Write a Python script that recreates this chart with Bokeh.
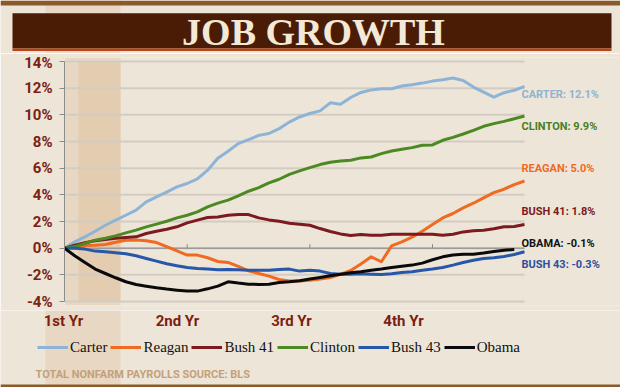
from bokeh.plotting import figure
from bokeh.layouts import column
from bokeh.models import (Label, BoxAnnotation, Legend, LegendItem,
                          FixedTicker, Range1d)
from bokeh.embed import file_html
from bokeh.resources import INLINE

# ---------------- data (percent change in payrolls since start of term) ----
months = list(range(46))
carter = [0, 0.47, 0.85, 1.27, 1.72, 2.1, 2.47, 2.85, 3.47, 3.85, 4.2, 4.6, 4.85, 5.2, 5.85, 6.75,
          7.27, 7.84, 8.14, 8.46, 8.6, 8.96, 9.46, 9.84, 10.1, 10.3, 10.9, 10.8, 11.3, 11.68, 11.87,
          11.96, 11.96, 12.16, 12.26, 12.38, 12.53, 12.63, 12.76, 12.58, 12.08, 11.7, 11.33, 11.66, 11.84, 12.13]
reagan = [0, 0.12, 0.2, 0.22, 0.27, 0.45, 0.6, 0.62, 0.55, 0.42, 0.12, -0.2, -0.52, -0.52, -0.72, -1.0,
          -1.07, -1.37, -1.7, -1.9, -2.1, -2.35, -2.47, -2.47, -2.4, -2.32, -2.2, -1.97, -1.67, -1.18, -0.65,
          -1.02, 0.17, 0.47, 0.82, 1.27, 1.77, 2.27, 2.6, 3.02, 3.37, 3.77, 4.17, 4.42, 4.77, 5.04]
bush41 = [0, 0.22, 0.4, 0.55, 0.65, 0.75, 0.8, 0.85, 1.1, 1.27, 1.42, 1.6, 1.9, 2.1, 2.3, 2.33,
          2.47, 2.52, 2.52, 2.27, 2.12, 2.02, 1.87, 1.8, 1.72, 1.47, 1.25, 1.07, 0.95, 1.02, 0.97,
          0.97, 1.05, 1.05, 1.05, 1.05, 1.05, 0.97, 1.05, 1.22, 1.3, 1.35, 1.45, 1.6, 1.62, 1.77]
clinton = [0, 0.12, 0.35, 0.6, 0.75, 0.92, 1.15, 1.35, 1.6, 1.8, 2.02, 2.27, 2.47, 2.72, 3.1, 3.38,
           3.6, 3.92, 4.27, 4.54, 4.9, 5.17, 5.54, 5.8, 6.04, 6.27, 6.44, 6.54, 6.6, 6.77, 6.84,
           7.09, 7.29, 7.42, 7.54, 7.72, 7.74, 8.09, 8.31, 8.56, 8.84, 9.14, 9.34, 9.51, 9.71, 9.91]
bush43 = [0, 0, -0.07, -0.22, -0.27, -0.35, -0.42, -0.57, -0.77, -0.97, -1.17, -1.32, -1.45, -1.52, -1.57, -1.61,
          -1.6, -1.62, -1.65, -1.65, -1.65, -1.6, -1.57, -1.72, -1.65, -1.72, -1.9, -1.95, -1.95, -1.92, -1.95,
          -1.97, -1.92, -1.82, -1.77, -1.65, -1.57, -1.45, -1.27, -1.07, -0.9, -0.77, -0.72, -0.62, -0.47, -0.27]
obama = [0, -0.57, -1.07, -1.57, -1.9, -2.22, -2.52, -2.72, -2.85, -2.97, -3.07, -3.15, -3.22, -3.22, -3.05, -2.85,
         -2.52, -2.62, -2.7, -2.72, -2.7, -2.57, -2.52, -2.45, -2.32, -2.2, -2.07, -1.95, -1.85, -1.77, -1.65,
         -1.57, -1.45, -1.35, -1.27, -1.12, -0.87, -0.65, -0.52, -0.45, -0.45, -0.37, -0.25, -0.15, -0.1]

series_names = ["Carter", "Reagan", "Bush 41", "Clinton", "Bush 43", "Obama"]
series_values = [carter, reagan, bush41, clinton, bush43, obama]
series_colors = ["#8db4d6", "#f06a22", "#7c1a1e", "#4b8a22", "#2657a8", "#0a0a0a"]

end_labels = ["CARTER: 12.1%", "CLINTON: 9.9%", "REAGAN: 5.0%", "BUSH 41: 1.8%",
              "OBAMA: -0.1%", "BUSH 43: -0.3%"]
end_colors = ["#8fb3d3", "#4a7e1e", "#ef6a24", "#7b1a1c", "#111111", "#2c50a0"]

y_ticks = [-4, -2, 0, 2, 4, 6, 8, 10, 12, 14]
year_ticks = [12, 24, 36]
year_labels = ["1st Yr", "2nd Yr", "3rd Yr", "4th Yr"]
title_text = "JOB GROWTH"
source_text = "TOTAL NONFARM PAYROLLS  SOURCE: BLS"

# ---------------- layout (page-pixel geometry) -------------------------------
W = 620
BG = "#ede5d8"
TAN = "#e8d8c3"
TAN_DARK = "#e3ccb0"
EDGE = "#8a5a2b"
PX_X = 460 / 45.0      # px per month
PX_Y = 240 / 18.0      # px per percent
LEFT, TOP14 = 64, 61   # page px of month 0 / 14 %


def strip(y0, y1):
    """A full-bleed figure whose data coordinates are page pixels."""
    f = figure(frame_width=W, frame_height=y1 - y0, min_border=0,
               x_range=Range1d(0, W), y_range=Range1d(y1, y0),
               x_axis_type=None, y_axis_type=None, frame_align=False,
               output_backend="svg", toolbar_location=None,
               background_fill_color=BG, border_fill_color=BG)
    f.outline_line_color = None
    f.grid.visible = False
    f.add_layout(BoxAnnotation(left=45, right=120, fill_color=TAN,
                               fill_alpha=1, line_alpha=0, level="image"))
    return f


# ---- title strip (page y 0..53) ----
t = strip(0, 53)
t.add_layout(BoxAnnotation(top=0, bottom=5, fill_color=EDGE, fill_alpha=1, line_alpha=0))
t.add_layout(BoxAnnotation(left=12, right=611, top=12.7, bottom=48,
                           fill_color="#4a1c05", fill_alpha=1, line_alpha=0))
t.add_layout(BoxAnnotation(left=12, right=611, top=48, bottom=50.5,
                           fill_color="#b4461a", fill_alpha=1, line_alpha=0))
t.add_layout(Label(x=313, y=31, text=title_text, text_color="#f3e9d8",
                   text_font="Liberation Serif", text_font_style="bold", text_font_size="38px",
                   text_align="center", text_baseline="middle"))

# ---- main chart (page y 53..310) ----
FW = W - LEFT
FH = 248
ytop = 14 + (TOP14 - 57) / PX_Y
ybot = ytop - FH / PX_Y
p = figure(frame_width=FW, frame_height=FH, min_border_left=LEFT, min_border_right=0,
           min_border_top=4, min_border_bottom=5, frame_align=False,
           x_range=Range1d(0, FW / PX_X), y_range=Range1d(ybot, ytop),
           x_axis_type=None, output_backend="svg", toolbar_location=None,
           background_fill_color=BG, border_fill_color=BG)
p.outline_line_color = None
p.grid.visible = False

ax = p.yaxis[0]
ax.bounds = (min(y_ticks), max(y_ticks))
ax.ticker = FixedTicker(ticks=y_ticks)
ax.major_label_overrides = {v: f"{v}%" for v in y_ticks}
ax.axis_line_color = "#8c8c8c"
ax.major_tick_line_color = "#8c8c8c"
ax.major_tick_out = 5
ax.major_tick_in = 0
ax.minor_tick_line_color = None
ax.major_label_standoff = 7
ax.major_label_text_font = "Roboto"
ax.major_label_text_font_style = "bold"
ax.major_label_text_font_size = "15px"
ax.major_label_text_color = "#7a2213"

p.add_layout(BoxAnnotation(left=0, right=(120 - LEFT) / PX_X, fill_color=TAN,
                           fill_alpha=1, line_alpha=0, level="image"))
p.add_layout(BoxAnnotation(left=(78 - LEFT) / PX_X, right=(120 - LEFT) / PX_X,
                           top=max(y_ticks), bottom=min(y_ticks), fill_color=TAN_DARK,
                           fill_alpha=1, line_alpha=0, level="image"))

last_month = months[-1]
p.segment(x0=[0] * len(y_ticks), x1=[last_month] * len(y_ticks), y0=y_ticks, y1=y_ticks,
          line_color="#d3ccc2", line_width=2)
p.segment(x0=[0], x1=[last_month], y0=[0], y1=[0], line_color="#9b9b9b", line_width=1.5)
p.segment(x0=year_ticks, x1=year_ticks, y0=[0] * 3, y1=[4 / PX_Y] * 3,
          line_color="#8a8a8a", line_width=1)

for name, vals, col in zip(series_names, series_values, series_colors):
    p.line(months[:len(vals)], vals, line_color=col, line_width=3, line_join="round")

end_label_y = [94, 126, 168, 211, 243, 264]
for txt, col, yy in zip(end_labels, end_colors, end_label_y):
    p.add_layout(Label(x=(521 - LEFT) / PX_X, y=14 - (yy - TOP14) / PX_Y, text=txt,
                       text_color=col, text_font="Roboto", text_font_style="bold",
                       text_font_size="11px", text_align="left", text_baseline="middle"))

# ---- bottom strip (page y 310..387) ----
b = strip(310, 387)
b.add_layout(BoxAnnotation(top=384, bottom=387, fill_color=EDGE, fill_alpha=1, line_alpha=0))
for txt, xx in zip(year_labels, [63, 177, 291, 403]):
    b.add_layout(Label(x=xx, y=320, text=txt, text_color="#7a1f12", text_font="Roboto",
                       text_font_style="bold", text_font_size="15px",
                       text_align="center", text_baseline="middle"))

# legend: the series drawn again in this strip fall outside its ranges, so only
# their legend swatches show
items = []
for name, vals, col in zip(series_names, series_values, series_colors):
    r = b.line(months[:len(vals)], vals, line_color=col, line_width=3)
    items.append(LegendItem(label=name, renderers=[r]))
legend = Legend(items=items, orientation="horizontal", location=(37, 30),
                glyph_width=31, glyph_height=20, label_height=20, label_standoff=2,
                spacing=3, padding=0, margin=0,
                label_text_font="Liberation Serif", label_text_font_size="15px",
                label_text_color="#111111",
                background_fill_alpha=0, border_line_alpha=0)
b.add_layout(legend)

b.add_layout(Label(x=35, y=374, text=source_text, text_color="#c4a07a", text_font="Roboto",
                   text_font_style="bold", text_font_size="11px",
                   text_align="left", text_baseline="middle"))

layout = column(t, p, b, spacing=0)
open("out.html", "w").write(file_html(layout, INLINE))
